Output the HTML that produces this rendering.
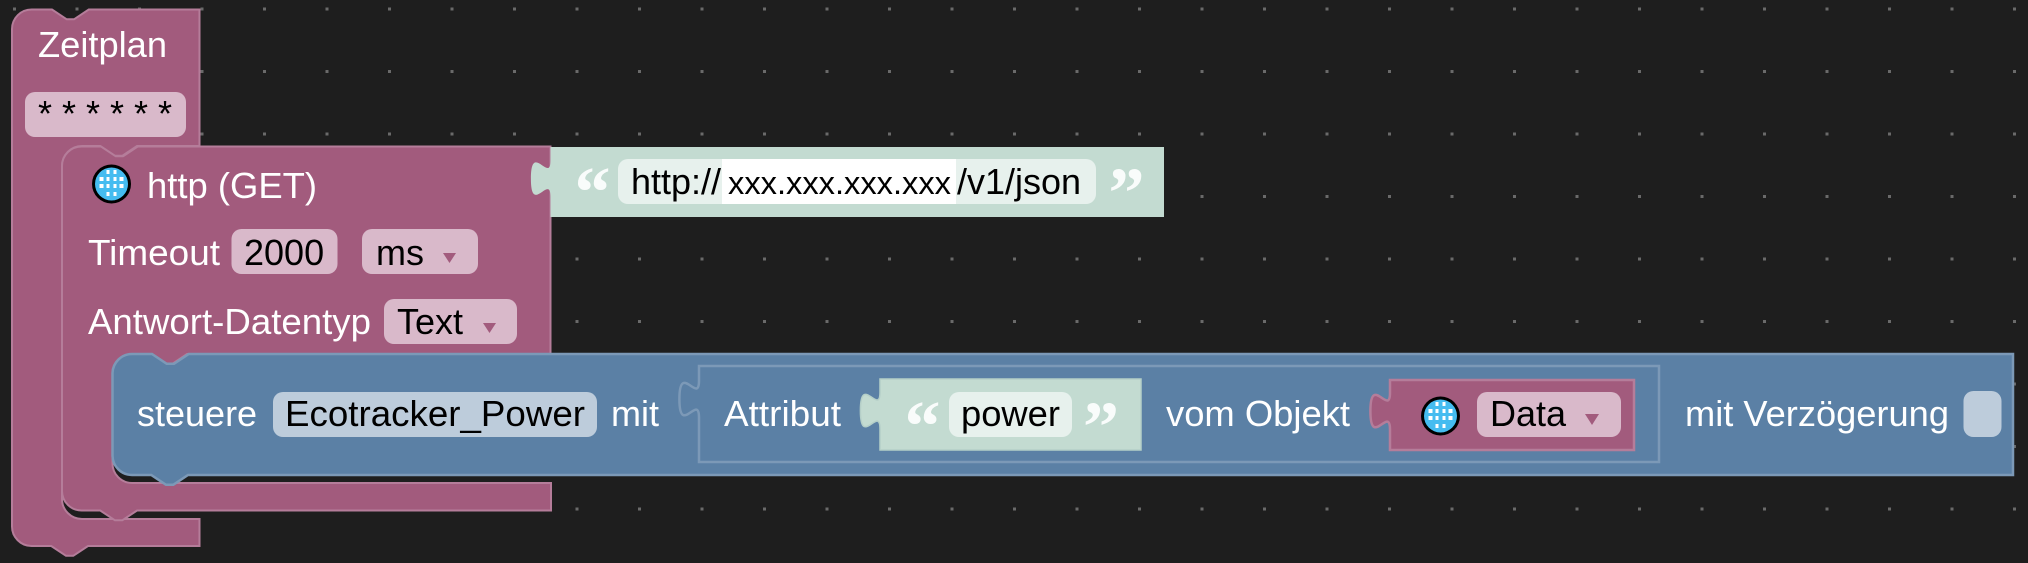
<!DOCTYPE html>
<html><head><meta charset="utf-8">
<style>
html,body{margin:0;padding:0;background:#1e1e1e;width:2028px;height:563px;overflow:hidden}
svg{display:block}
text{font-family:"Liberation Sans",Arial,sans-serif;font-size:36px}
.w{fill:#fff}.k{fill:#000}
.q{font-family:"Liberation Serif",serif;font-weight:bold;font-size:72px;fill:#fff;fill-opacity:.9}
</style></head><body>
<svg width="2028" height="563" viewBox="0 0 2028 563" xmlns="http://www.w3.org/2000/svg">
<defs>
<pattern id="d" x="13" y="7.5" width="62.5" height="62.5" patternUnits="userSpaceOnUse"><rect width="3" height="3" fill="#6a6a6a"/></pattern>
<g id="globe">
<circle r="19.5" fill="#000"/>
<circle r="16.5" fill="#45bcf0"/>
<g fill="#fff">
<rect x="-5" y="-14" width="3" height="4"/><rect x="2" y="-14" width="3" height="4"/>
<rect x="-12" y="-7" width="4" height="4"/><rect x="-5" y="-7" width="3" height="4"/><rect x="2" y="-7" width="3" height="4"/><rect x="8" y="-7" width="4" height="4"/>
<rect x="-12" y="0" width="4" height="4"/><rect x="-5" y="0" width="3" height="4"/><rect x="2" y="0" width="3" height="4"/><rect x="8" y="0" width="4" height="4"/>
<rect x="-5" y="8" width="3" height="4"/><rect x="2" y="8" width="3" height="4"/>
</g>
</g>
</defs>
<rect width="2028" height="563" fill="#1e1e1e"/>
<rect width="2028" height="563" fill="url(#d)"/>

<!-- Zeitplan -->
<path d="M12,29 A19.6,19.6 0 0 1 31.6,9.500 H52 l14.700,9.800 h7.350 l14.700,-9.800 H199.500 V146 H137 l-14.700,9.800 h-7.350 l-14.700,-9.800 H82 A20,20 0 0 0 62,166 V499 A20,20 0 0 0 82,519 H199.500 V546 H88 l-14.700,9.800 h-7.350 l-14.700,-9.800 H31.6 A19.6,19.6 0 0 1 12,526 Z" fill="#a25b7d" stroke="#b57d9a" stroke-width="2"/>
<text x="38" y="57" class="w" textLength="129" lengthAdjust="spacingAndGlyphs">Zeitplan</text>
<rect x="25" y="92" width="161" height="45" rx="10" fill="#d9b9ca"/>
<text x="38" y="126" class="k" xml:space="preserve">* * * * * *</text>

<!-- http -->
<path d="M62,166 A19.6,19.6 0 0 1 81.6,146.500 H101 l14.700,9.800 h7.350 l14.700,-9.800 H550.500 V354 H187 l-14.700,9.800 h-7.350 l-14.700,-9.800 H132 A19.6,19.6 0 0 0 112.500,373 V463 A19.6,19.6 0 0 0 132,483 H551 V510.500 H137 l-14.700,9.800 h-7.350 l-14.700,-9.800 H82 A19.6,19.6 0 0 1 62,491 Z" fill="#a25b7d" stroke="#b57d9a" stroke-width="2"/>
<use href="#globe" x="111.500" y="184"/>
<text x="147" y="198" class="w" textLength="170" lengthAdjust="spacingAndGlyphs">http (GET)</text>
<text x="88" y="265" class="w" textLength="132" lengthAdjust="spacingAndGlyphs">Timeout</text>
<rect x="231.500" y="229" width="106" height="45" rx="10" fill="#d9b9ca"/>
<text x="244" y="265" class="k">2000</text>
<rect x="362" y="229" width="116" height="45" rx="10" fill="#d9b9ca"/>
<text x="376" y="265" class="k">ms</text>
<path d="M443,253 H456 L449.500,263 Z" fill="#a25b7d"/>
<text x="88" y="334" class="w" textLength="283" lengthAdjust="spacingAndGlyphs">Antwort-Datentyp</text>
<rect x="384" y="299" width="133" height="45" rx="10" fill="#d9b9ca"/>
<text x="397" y="334" class="k">Text</text>
<path d="M483,323 H496 L489.500,333 Z" fill="#a25b7d"/>

<!-- URL string -->
<path d="M550.500,147 H1164 V217 H550.500 V197 c0,-24.500 -19.600,19.600 -19.600,-18.400 s19.600,6 19.600,-18.400 Z" fill="#c3dbd1"/>
<text x="574.500" y="216" class="q">“</text>
<rect x="618" y="159" width="478" height="45" rx="10" fill="#e7f1ed"/>
<rect x="722" y="159" width="234" height="45" fill="#fff"/>
<text x="631" y="194" class="k">http://</text>
<text x="728" y="194" class="k" style="font-size:32px" textLength="223" lengthAdjust="spacingAndGlyphs">xxx.xxx.xxx.xxx</text>
<text x="957" y="194" class="k" textLength="124" lengthAdjust="spacingAndGlyphs">/v1/json</text>
<text x="1108.500" y="217" class="q">”</text>

<!-- steuere -->
<path d="M112.500,373 A19.600,19.600 0 0 1 132,354 H152 l14.700,9.800 h7.350 l14.700,-9.800 H2013 V475 H188 l-14.700,9.800 h-7.350 l-14.700,-9.800 H132 A19.600,19.600 0 0 1 112.500,456 Z" fill="#5b80a5" stroke="#7c99b7" stroke-width="2.500"/>
<text x="137" y="426" class="w">steuere</text>
<rect x="273" y="392" width="324" height="45" rx="10" fill="#bdccdb"/>
<text x="285" y="426" class="k" textLength="300" lengthAdjust="spacingAndGlyphs">Ecotracker_Power</text>
<text x="611" y="426" class="w">mit</text>

<!-- Attribut -->
<path d="M699,366 H1659 V462 H699 V417.500 c0,-24.500 -19.600,19.600 -19.600,-18.400 s19.600,6 19.600,-18.400 Z" fill="#5b80a5" stroke="#7c99b7" stroke-width="2.500"/>
<text x="724" y="426" class="w" textLength="117" lengthAdjust="spacingAndGlyphs">Attribut</text>
<path d="M880,379 H1141 V450 H880 V429 c0,-24.500 -19.600,19.600 -19.600,-18.400 s19.600,6 19.600,-18.400 Z" fill="#c3dbd1" stroke="#b5cfc8" stroke-width="1.500"/>
<text x="904.500" y="450" class="q">“</text>
<rect x="949" y="392" width="123" height="45" rx="10" fill="#e7f1ed"/>
<text x="961" y="426" class="k" textLength="99" lengthAdjust="spacingAndGlyphs">power</text>
<text x="1083" y="451" class="q">”</text>
<text x="1166" y="426" class="w" textLength="184" lengthAdjust="spacingAndGlyphs">vom Objekt</text>

<!-- Data -->
<path d="M1390,380 H1634 V450 H1390 V429.500 c0,-24.500 -19.600,19.600 -19.600,-18.400 s19.600,6 19.600,-18.400 Z" fill="#a25b7d" stroke="#b57d9a" stroke-width="2.500"/>
<use href="#globe" x="1440.500" y="416"/>
<rect x="1477" y="392" width="144" height="45" rx="10" fill="#d9b9ca"/>
<text x="1490" y="426" class="k">Data</text>
<path d="M1585,414 H1599 L1592,425 Z" fill="#a25b7d"/>

<text x="1685" y="426" class="w" textLength="264" lengthAdjust="spacingAndGlyphs">mit Verzögerung</text>
<rect x="1963.500" y="391" width="38" height="46" rx="10" fill="#bdccdb"/>
</svg>
</body></html>
